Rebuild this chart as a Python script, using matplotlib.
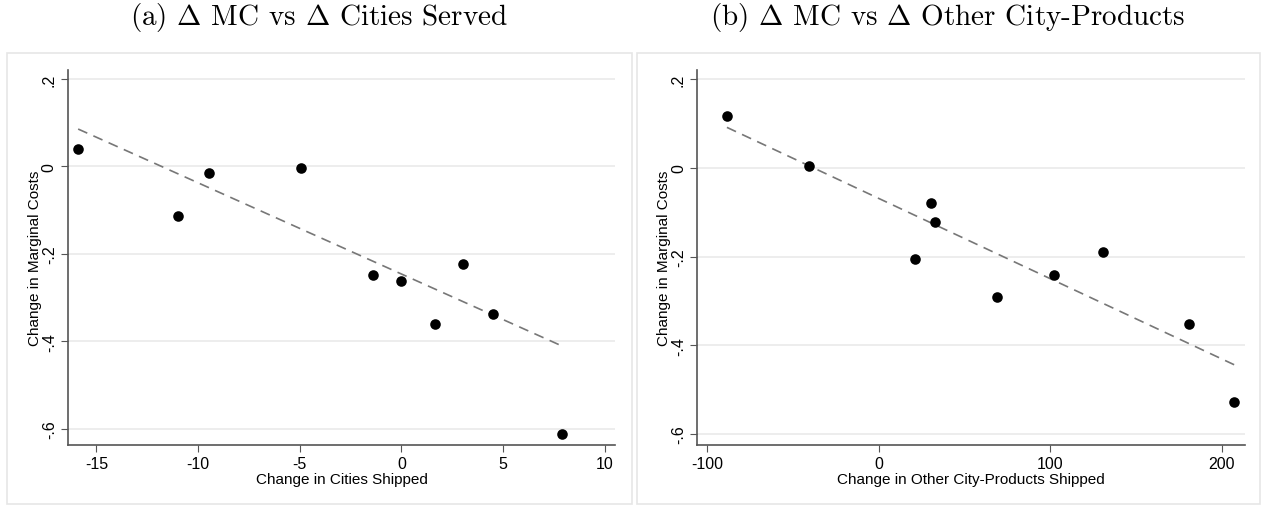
import matplotlib
matplotlib.use("Agg")
import matplotlib.pyplot as plt
from matplotlib.patches import Rectangle
import numpy as np

# panel (a): change in cities shipped vs change in marginal costs
cities_x = [-15.9, -11.0, -9.45, -4.95, -1.4, 0.0, 1.67, 3.0, 4.5, 7.9]
cities_y = [0.039, -0.114, -0.014, -0.004, -0.249, -0.263, -0.36, -0.222, -0.338, -0.612]
fit_a = [-0.246, -0.02084]          # intercept, slope
fit_a_range = [-15.9, 7.8]

# panel (b): change in other city-products shipped
prods_x = [-88.4, -40.8, 30.3, 32.6, 21.0, 68.7, 101.9, 130.5, 181.0, 206.8]
prods_y = [0.117, 0.005, -0.079, -0.122, -0.205, -0.291, -0.241, -0.189, -0.352, -0.527]
fit_b = [-0.069, -0.00181]
fit_b_range = [-88.4, 208.0]

yticks = [0.2, 0, -0.2, -0.4, -0.6]
ytick_labels = [".2", "0", "-.2", "-.4", "-.6"]

plt.rcParams["mathtext.fontset"] = "cm"

fig = plt.figure(figsize=(12.66, 5.06), dpi=100)

# light frames around each panel (stata graph region)
for x0, x1 in [(7, 632), (637, 1260)]:
    fig.patches.append(Rectangle((x0 / 1266, 1 / 506), (x1 - x0) / 1266, (452 - 1) / 506,
                                 transform=fig.transFigure, fill=False,
                                 edgecolor="#e6e6e6", linewidth=1.2))

def panel(ax, x, y, fit, rng, xlim, ylim, xticks, xlabel):
    ax.set_xlim(*xlim)
    ax.set_ylim(*ylim)
    for t in yticks:
        ax.axhline(t, color="#eaeaea", linewidth=1.2, zorder=0)
    xs = np.array(rng)
    ax.plot(xs, fit[0] + fit[1] * xs, linestyle=(0, (6, 4)), color="#777777", linewidth=1.2)
    ax.scatter(x, y, s=58, color="black", zorder=3, linewidths=0)
    ax.set_yticks(yticks)
    ax.set_yticklabels(ytick_labels, rotation=90, va="center")
    ax.set_xticks(xticks)
    ax.set_xticklabels([str(t) for t in xticks])
    ax.tick_params(labelsize=11.5, color="#555555", length=5, pad=3)
    for lab in ax.get_xticklabels() + ax.get_yticklabels():
        lab.set_family("Liberation Sans")
    ax.set_xlabel(xlabel, fontsize=11, family="Liberation Sans", labelpad=1)
    ax.set_ylabel("Change in Marginal Costs", fontsize=11, family="Liberation Sans", labelpad=0)
    ax.spines["top"].set_visible(False)
    ax.spines["right"].set_visible(False)
    ax.spines["left"].set_color("#555555")
    ax.spines["bottom"].set_color("#555555")
    ax.spines["left"].set_linewidth(1.2)
    ax.spines["bottom"].set_linewidth(1.2)

ax1 = fig.add_axes([0.0537, 0.1192, 0.4321, 0.7411])
panel(ax1, cities_x, cities_y, fit_a, fit_a_range, (-16.4, 10.5), (-0.636, 0.221),
      [-15, -10, -5, 0, 5, 10], "Change in Cities Shipped")

ax2 = fig.add_axes([0.5506, 0.1192, 0.4328, 0.7411])
panel(ax2, prods_x, prods_y, fit_b, fit_b_range, (-105.8, 213.4), (-0.624, 0.221),
      [-100, 0, 100, 200], "Change in Other City-Products Shipped")

fig.text(319 / 1266, 1 - 17 / 506, r"(a) $\Delta$ MC vs $\Delta$ Cities Served",
         ha="center", va="center", fontsize=21, family="cmr10")
fig.text(948 / 1266, 1 - 17 / 506, r"(b) $\Delta$ MC vs $\Delta$ Other City-Products",
         ha="center", va="center", fontsize=21, family="cmr10")

fig.savefig("out.png", dpi=100)
